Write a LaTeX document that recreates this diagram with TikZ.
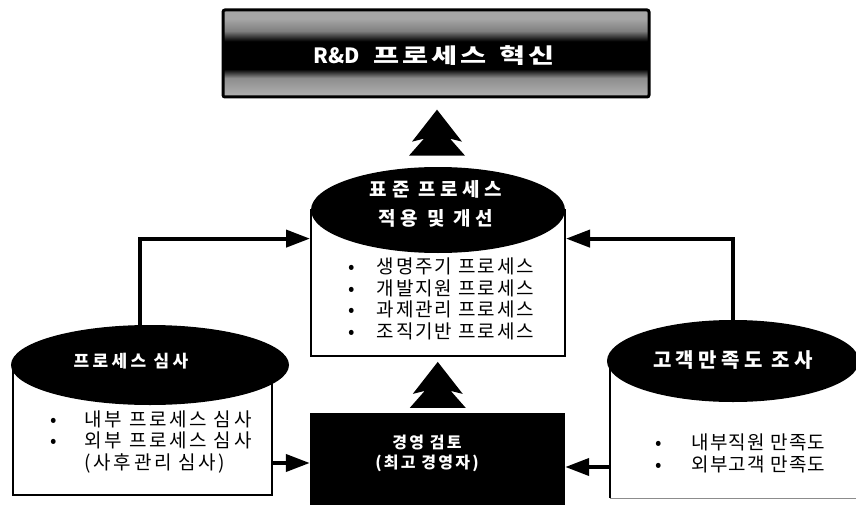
\documentclass[tikz,border=0pt]{standalone}
\usepackage{fontspec}
\usetikzlibrary{arrows.meta,calc,shapes.geometric}
\newfontfamily\krc[LetterSpace=10]{Noto Sans CJK KR}
\newfontfamily\krlft[LetterSpace=14]{Noto Sans CJK KR}
\newfontfamily\krr[LetterSpace=6]{Noto Sans CJK KR}
\newfontfamily\krh[LetterSpace=24]{Noto Sans CJK KR}
\newfontfamily\krhr[LetterSpace=22]{Noto Sans CJK KR}
\newfontfamily\krhl[LetterSpace=20]{Noto Sans CJK KR}
\newfontfamily\krm[LetterSpace=14]{Noto Sans CJK KR}
\newfontfamily\krt[LetterSpace=14,FakeStretch=1.35]{Noto Sans CJK KR}
\newfontfamily\krl{Noto Sans CJK KR}
\pgfdeclareverticalshading{metalband}{100bp}{color(0bp)=(black!30); color(25bp)=(black!30); color(36bp)=(black!45); color(41bp)=(black); color(57bp)=(black); color(63bp)=(black!50); color(70bp)=(black!35); color(75bp)=(black!35); color(100bp)=(black!35)}
\tikzset{
  body/.style={draw=black, line width=2pt, fill=white},
  head/.style={ellipse, fill=black, inner sep=0pt},
  headtxt/.style={text=white, font=\krh\bfseries\fontsize{19}{29}\selectfont, align=center},
  listtxt/.style={font=\krc\fontsize{19}{20}\selectfont, align=left, anchor=west, inner sep=0pt},
  conn/.style={line width=4pt, -{Triangle[length=24pt,width=17pt]}},
  treearrow/.pic={\fill[black] (0,-23) -- (-25,9) -- (-13,6) -- (-28,23) -- (28,23) -- (13,6) -- (25,9) -- cycle;}
}
\begin{document}
\begin{tikzpicture}[x=1pt,y=-1pt]
\useasboundingbox (0,0) rectangle (856,508);
% top box
\shade[shading=metalband] (223,10) rectangle (649,97);
\node[draw=black, line width=3pt, rounded corners=2pt, minimum width=426pt, minimum height=87pt, inner sep=0pt] (top) at (436,53.5) {};
\node[text=white, font=\fontsize{21}{22}\selectfont\bfseries] (toptxt) at (434,56) {{\krl R\&D}\hspace{14pt}{\krt 프로세스}\hspace{13pt}{\krt 혁신}};

% center cylinder
\node[body, rectangle, minimum width=254pt, minimum height=146pt, inner sep=0pt] (cb) at (438,283) {};
\node[head, minimum width=254pt, minimum height=86pt] (ch) at (438,210) {};
\node[headtxt] (chtxt) at (436,204) {표준 프로세스\\적용 및 개선};
\node[listtxt] (clist) at (348,301) {%
\begin{tabular}{@{}l@{\hspace{22pt}}l@{}}
\textbullet & 생명주기 프로세스\\
\textbullet & 개발지원 프로세스\\
\textbullet & 과제관리 프로세스\\
\textbullet & 조직기반 프로세스
\end{tabular}};

% left cylinder
\node[body, rectangle, minimum width=259pt, minimum height=130pt, inner sep=0pt] (lb) at (142.5,430) {};
\node[head, minimum width=278pt, minimum height=80pt] (lh) at (150,365) {};
\node[headtxt, font=\krhl\bfseries\fontsize{17}{20}\selectfont] (lhtxt) at (131,361) {프로세스 심사};
\node[listtxt, font=\krlft\fontsize{19}{19}\selectfont] (llist) at (50,443) {%
\begin{tabular}{@{}l@{\hspace{28pt}}l@{}}
\textbullet & 내부 프로세스 심사\\
\textbullet & 외부 프로세스 심사\\
 & (사후관리 심사)
\end{tabular}};

% right cylinder
\draw[line width=2pt] (610,361) -- (610,498);
\draw[line width=1pt, black!45] (610,498) -- (856,498);
\coordinate (rb) at (610,430);
\node[head, minimum width=252pt, minimum height=82pt] (rh) at (733,361) {};
\node[headtxt, font=\krhr\bfseries\fontsize{20}{22}\selectfont] (rhtxt) at (733,360) {고객만족도 조사};
\node[listtxt, font=\krr\fontsize{19}{21}\selectfont] (rlist) at (655,456) {%
\begin{tabular}{@{}l@{\hspace{30pt}}l@{}}
\textbullet & 내부직원 만족도\\
\textbullet & 외부고객 만족도
\end{tabular}};

% management box
\node[rectangle, fill=black, minimum width=255pt, minimum height=92pt, inner sep=0pt] (mb) at (437.5,459) {};
\node[headtxt, font=\krm\bfseries\fontsize{16}{20}\selectfont] (mbtxt) at (427,453) {경영 검토\\(최고 경영자)};

% tree arrows
\pic at ($(top.south)!0.5!(ch.north)$) {treearrow};
\pic at ($(cb.south)!0.5!(mb.north)$) {treearrow};

% connectors
\coordinate (cbl) at ($(cb.north west)!0.2!(cb.south west)$);
\coordinate (cbr) at ($(cb.north east)!0.2!(cb.south east)$);
\coordinate (mbl) at ([yshift=-4pt]mb.west);
\coordinate (mbr) at ([yshift=-8pt]mb.east);
\draw[conn] ([xshift=-10pt]lh.north) |- (cbl);
\draw[conn] (rh.north) |- (cbr);
\draw[conn] (mbl -| lb.east) -- (mbl);
\draw[conn] (mbr -| rb) -- (mbr);
\end{tikzpicture}
\end{document}
